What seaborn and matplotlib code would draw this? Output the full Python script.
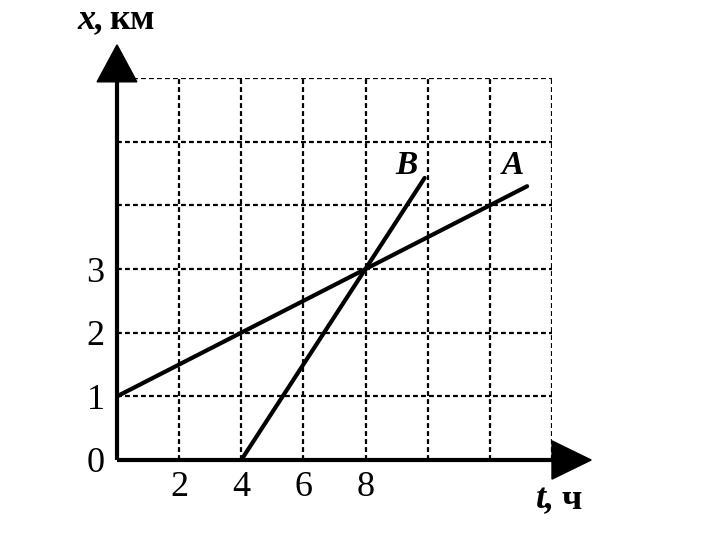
import matplotlib
matplotlib.use("Agg")
import matplotlib.pyplot as plt
import seaborn as sns
import pandas as pd

# Data
t_A = [0, 13.2]
x_A = [1, 4.3]
t_B = [4, 9.9]
x_B = [0, 4.43]
x_ticks = [0, 2, 4, 6, 8, 10, 12, 14]
x_tick_labels = ["", "2", "4", "6", "8", "", "", ""]
y_ticks = [0, 1, 2, 3, 4, 5, 6]
y_tick_labels = ["0", "1", "2", "3", "", "", ""]

sns.set_style("white")
plt.rcParams["font.family"] = ["Liberation Serif", "DejaVu Serif"]
plt.rcParams["text.color"] = "black"
plt.rcParams["xtick.color"] = "black"
plt.rcParams["ytick.color"] = "black"

W, H = 718, 559
fig = plt.figure(figsize=(W / 100, H / 100), dpi=100)
x0, x1, y0, y1 = 117, 552, 460, 78
ax = fig.add_axes([x0 / W, (H - y0) / H, (x1 - x0) / W, (y0 - y1) / H])
ax.set_xlim(0, 14)
ax.set_ylim(0, 6)

df = pd.concat([
    pd.DataFrame({"t": t_A, "x": x_A, "line": "A"}),
    pd.DataFrame({"t": t_B, "x": x_B, "line": "B"}),
])
sns.lineplot(data=df, x="t", y="x", units="line", estimator=None,
             color="black", linewidth=3.0, ax=ax, legend=False, zorder=4)

ax.set_xticks(x_ticks)
ax.set_xticklabels(x_tick_labels, fontsize=26, color="black")
ax.set_yticks(y_ticks)
ax.set_yticklabels(y_tick_labels, fontsize=26, color="black")
ax.tick_params(axis="both", length=0)
ax.tick_params(axis="x", pad=8)
ax.tick_params(axis="y", pad=9)
ax.grid(True, color="black", linestyle=(0, (2.2, 1.4)), linewidth=1.6)
for s in ax.spines.values():
    s.set_visible(False)
ax.set_xlabel("")
ax.set_ylabel("")

# axes with arrows
ax.plot([0, 0], [0, 6.0], color="black", lw=3.0, clip_on=False, zorder=5, solid_capstyle="butt")
ax.plot([0, 14.05], [0, 0], color="black", lw=3.0, clip_on=False, zorder=5, solid_capstyle="butt")
ax.fill([-0.64, 0.64, 0], [5.94, 5.94, 6.52], color="black", clip_on=False, zorder=6)
ax.fill([14.0, 14.0, 15.26], [-0.3, 0.3, 0], color="black", clip_on=False, zorder=6)

# labels
ax.text(-0.4, 6.91, "x,", fontsize=26, style="italic", weight="bold", ha="right", va="center")
ax.text(-0.25, 6.91, "км", fontsize=26, weight="bold", ha="left", va="center")
ax.text(14.1, -0.63, "t,", fontsize=26, style="italic", weight="bold", ha="right", va="center")
ax.text(14.3, -0.63, "ч", fontsize=26, weight="bold", ha="left", va="center")
ax.text(9.33, 4.63, "B", fontsize=24, style="italic", weight="bold", ha="center", va="center")
ax.text(12.75, 4.63, "A", fontsize=24, style="italic", weight="bold", ha="center", va="center")

fig.savefig("out.png", dpi=100, facecolor="white")
